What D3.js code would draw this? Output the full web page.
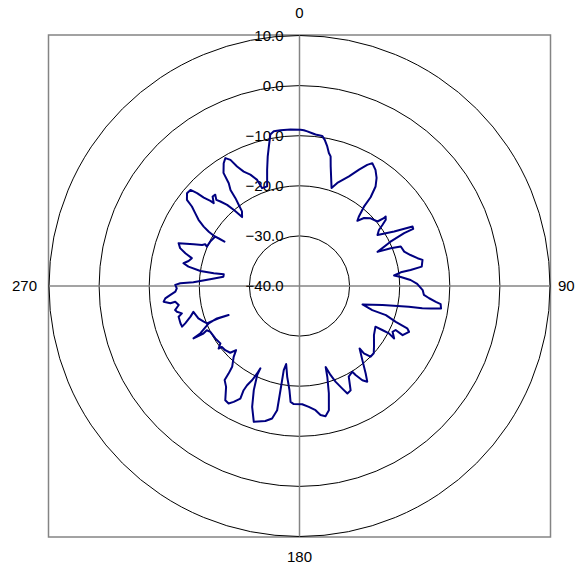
<!DOCTYPE html>
<html>
<head>
<meta charset="utf-8">
<script src="https://cdn.jsdelivr.net/npm/d3@7"></script>
<style>
    body { margin: 0; background: #fff; }
    text { font-family: "Liberation Sans", Arial, sans-serif; font-size: 15px; fill: #000; }
</style>
</head>
<body>
<div id="chart"></div>
<script>
// Pattern: bearing (deg, clockwise from top) and level (dB)
var angles = [0.4, 1.6, 2.9, 4.75, 6.05, 8.6, 9.8, 11.25, 12.45, 13.5, 14.6, 16.65, 18.1, 20.15, 24.3, 27.1,
    29.2, 30.65, 33.2, 35.5, 37.4, 38.7, 39.1, 40.55, 41.6, 43.5, 46.4, 50.4, 51.2, 51.1, 52.5, 53.6,
    54.8, 56.8, 60.1, 62.25, 63.3, 63.2, 64.05, 66.4, 67.5, 68.7, 71.8, 74.4, 76.75, 78.0, 81.0, 81.8,
    82.3, 83.65, 84.9, 86.9, 89.0, 91.9, 94.1, 95.4, 96.6, 97.3, 99.0, 99.7, 100.3, 100.7, 102.9, 106.3,
    108.3, 108.6, 110.4, 111.45, 112.7, 115.5, 114.6, 116.2, 119.0, 117.9, 118.0, 118.2, 123.4, 128.85,
    132.2, 134.9, 136.3, 136.1, 139.7, 142.9, 144.7, 146.3, 147.8, 148.4, 151.5, 153.9, 156.0, 157.35,
    159.4, 160.8, 162.1, 163.0, 164.7, 166.7, 168.7, 170.75, 172.65, 175.6, 178.7, 182.8, 184.4, 185.5,
    187.7, 189.7, 190.6, 190.35, 190.2, 191.7, 194.2, 198.6, 201.4, 203.7, 205.4, 205.4, 205.85, 206.7,
    207.85, 208.2, 207.7, 209.6, 211.1, 213.0, 216.05, 218.5, 219.0, 219.8, 222.9, 224.7, 226.05, 229.15,
    231.85, 232.3, 234.05, 238.1, 242.8, 244.5, 243.7, 243.7, 243.7, 244.5, 247.65, 248.6, 247.7, 248.2,
    248.1, 248.0, 249.55, 252.2, 256.3, 254.3, 251.9, 250.9, 252.6, 255.7, 256.9, 258.1, 259.05, 261.05,
    262.8, 262.4, 263.4, 264.75, 266.0, 267.4, 268.9, 270.5, 271.3, 272.0, 274.3, 277.0, 278.8, 278.4,
    278.6, 279.9, 281.1, 282.7, 284.5, 286.0, 287.6, 289.5, 291.5, 292.85, 293.9, 293.05, 296.45, 300.4,
    300.6, 300.6, 300.4, 300.9, 301.8, 303.25, 304.95, 306.45, 307.45, 309.5, 311.4, 312.2, 312.7, 313.7,
    314.0, 315.85, 317.3, 316.0, 316.9, 318.25, 319.15, 319.75, 320.2, 322.35, 323.15, 323.9, 324.3,
    325.45, 326.1, 328.3, 329.9, 331.3, 332.4, 334.0, 336.2, 338.25, 339.1, 342.0, 344.45, 346.2, 347.6,
    348.5, 349.1, 350.55, 353.0, 356.7];

var gain = [-8.8, -8.9, -9.1, -9.4, -9.6, -9.7, -10.4, -11.6, -12.8, -13.4, -15.3, -17.9, -19.4, -18.1, -16.0, -13.9,
    -12.3, -11.5, -12.3, -13.5, -15.0, -17.3, -19.6, -21.8, -22.6, -21.3, -20.4, -19.8, -18.4, -17.9, -18.3, -19.4,
    -20.6, -21.4, -18.2, -14.5, -14.6, -16.6, -19.8, -23.0, -20.3, -18.3, -18.0, -17.0, -15.8, -14.9, -15.3, -17.6,
    -19.6, -21.0, -19.7, -17.8, -16.5, -15.4, -15.1, -14.0, -12.6, -11.6, -11.4, -13.4, -15.1, -17.8, -23.0, -26.9,
    -24.7, -21.8, -19.5, -16.9, -16.3, -17.2, -18.9, -19.3, -18.4, -19.8, -21.3, -22.8, -22.2, -20.9,
    -20.0, -20.0, -21.4, -22.7, -20.6, -18.1, -16.6, -17.4, -19.0, -19.9, -19.4, -16.8, -16.5, -17.8,
    -19.6, -21.2, -23.0, -21.0, -17.8, -14.5, -13.5, -13.9, -15.0, -15.8, -16.4, -16.4, -16.8, -19.1,
    -21.7, -24.2, -22.9, -18.9, -14.8, -13.0, -12.2, -11.4, -14.1, -17.3, -20.3, -21.8, -20.6, -19.0,
    -17.6, -16.4, -14.6, -13.4, -12.6, -12.8, -15.1, -16.0, -17.5, -19.0, -20.7, -22.0, -20.8, -20.4,
    -20.3, -19.6, -20.5, -20.2, -20.0, -19.5, -18.6, -17.9, -16.4, -18.1, -20.4, -22.3, -24.7, -22.6,
    -20.8, -20.1, -19.6, -18.8, -18.2, -17.4, -16.0, -15.2, -15.1, -15.1, -15.9, -15.0, -14.7, -15.6,
    -15.0, -14.0, -12.7, -13.1, -14.1, -15.2, -15.5, -15.2, -16.2, -18.8, -22.1, -24.7, -24.7, -22.7,
    -20.0, -17.5, -16.4, -17.3, -17.8, -16.3, -15.0, -14.4, -17.3, -18.9, -19.4, -19.9, -20.1, -20.5,
    -22.6, -21.3, -20.1, -18.9, -17.5, -15.9, -14.6, -13.3, -11.7, -10.9, -11.0, -12.4, -14.0, -15.4,
    -16.2, -15.1, -15.2, -16.1, -16.9, -18.3, -19.9, -21.2, -22.1, -21.2, -19.8, -18.3, -16.4,
    -15.1, -12.8, -11.2, -10.5, -11.3, -13.1, -14.6, -15.7, -17.2, -19.1, -19.1, -15.9, -13.4, -11.5,
    -10.2, -9.2, -8.7, -8.7, -8.7];

var ringTicks = [-40, -30, -20, -10, 0, 10];
var spokeAngles = [0, 90, 180, 270];
var spokeLabels = ["0", "90", "180", "270"];

var width = 583, height = 566,
    cx = 299.5, cy = 286,
    outer = 250.5;

var svg = d3.select("#chart")
    .append("svg")
    .attr("width", width)
    .attr("height", height);

var g = svg.append("g")
    .attr("transform", "translate(" + cx + "," + cy + ")");

// radial scale: centre is -40 dB, outer ring +10 dB
var rScale = d3.scaleLinear().domain([-40, 10]).range([0, outer]);

// plot frame
g.append("rect")
    .attr("x", -outer - 0.5)
    .attr("y", -outer - 0.5)
    .attr("width", 2 * outer + 1)
    .attr("height", 2 * outer + 1)
    .attr("fill", "none")
    .attr("stroke", "#848484")
    .attr("stroke-width", 1.5);

// rings
g.selectAll(".ring")
    .data(ringTicks.filter(function(d) { return d > -40; }))
    .enter().append("circle")
    .attr("class", "ring")
    .attr("r", function(d) { return rScale(d); })
    .attr("fill", "none")
    .attr("stroke", "#000")
    .attr("stroke-width", 1);

// spokes
g.selectAll(".spoke")
    .data(spokeAngles)
    .enter().append("line")
    .attr("class", "spoke")
    .attr("x1", 0).attr("y1", 0)
    .attr("x2", function(d) { return outer * Math.sin(d * Math.PI / 180); })
    .attr("y2", function(d) { return -outer * Math.cos(d * Math.PI / 180); })
    .attr("stroke", "#848484")
    .attr("stroke-width", 1.5);

// ring value labels up the 0 spoke
g.selectAll(".tick")
    .data(ringTicks)
    .enter().append("text")
    .attr("class", "tick")
    .attr("x", -16)
    .attr("y", function(d) { return -rScale(d); })
    .attr("dy", "0.35em")
    .attr("text-anchor", "end")
    .text(function(d) { return d3.format(".1f")(d); });

// bearing labels outside the frame
function labelPos(d) {
    var a = d * Math.PI / 180;
    if (d === 90) return [outer + 8, 0, "start"];
    if (d === 270) return [-outer - 12, 0, "end"];
    return [0, -(outer + 23) * Math.cos(a) + (d === 180 ? -3 : 0), "middle"];
}

g.selectAll(".bearing")
    .data(spokeAngles)
    .enter().append("text")
    .attr("class", "bearing")
    .attr("x", function(d) { return labelPos(d)[0]; })
    .attr("y", function(d) { return labelPos(d)[1]; })
    .attr("dy", "0.35em")
    .attr("text-anchor", function(d) { return labelPos(d)[2]; })
    .text(function(d, i) { return spokeLabels[i]; });

// pattern trace
var pts = angles.map(function(a, i) { return { a: a, v: gain[i] }; });

var line = d3.lineRadial()
    .angle(function(d) { return d.a * Math.PI / 180; })
    .radius(function(d) { return rScale(d.v); })
    .curve(d3.curveLinearClosed);

g.append("path")
    .datum(pts)
    .attr("d", line)
    .attr("fill", "none")
    .attr("stroke", "#000080")
    .attr("stroke-width", 2)
    .attr("stroke-linejoin", "round");
</script>
</body>
</html>
